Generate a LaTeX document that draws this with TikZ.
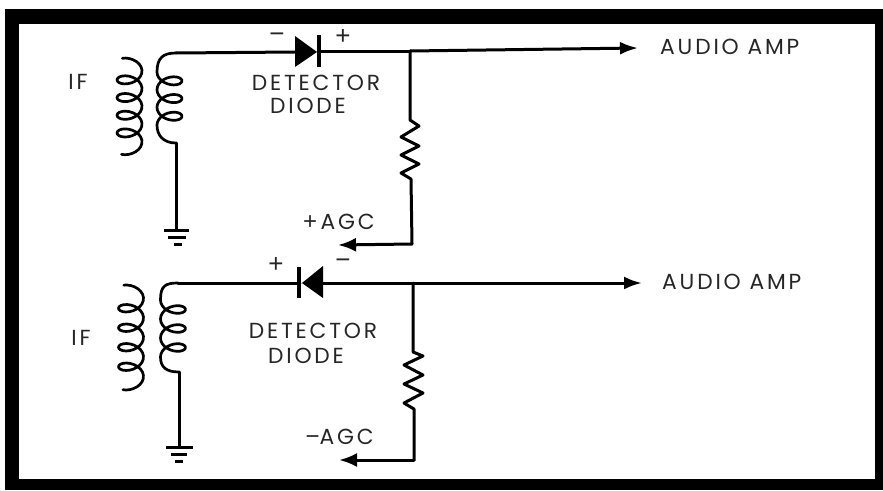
\documentclass[tikz,border=0pt]{standalone}
\usepackage{fontspec}
\setmainfont[LetterSpace=13]{Poppins}
\newfontfamily\symfont{Liberation Sans}
\usetikzlibrary{arrows.meta,calc}
\tikzset{
 wire/.style={line width=3pt,line cap=round,line join=round},
 coil/.style={line width=2.7pt,line join=round,line cap=round},
 thinbar/.style={line width=3pt},
 lab/.style={inner sep=0pt,font=\fontsize{21.8}{23}\selectfont,text=black!85},
 sym/.style={inner sep=0pt,font=\symfont\fontsize{26}{27}\selectfont,text=black!85},
 tip/.style={-{Latex[length=18pt,width=13pt]}},
 revtip/.style={-{Latex[length=18pt,width=14pt]}},
 dbar/.style={line width=4.4pt},
}
% primary: centre x, y at t=0, pitch
\newcommand{\primcoil}[3]{%
 \draw[coil] plot[smooth,samples=100,domain=-125:1570,variable=\t]
  ({#1+12.5*cos(\t)},{#2+\t/360*#3+8*sin(\t)});}
% secondary: centre x, y at t=0, pitch, first end, last end
\newcommand{\seccoil}[5]{%
 \draw[coil] (#4) .. controls +(-13,0) and ({#1-12.5},{#2-14}) .. ({#1-12.5},{#2})
  -- plot[smooth,samples=70,domain=0:1080,variable=\t]
  ({#1-12.5*cos(\t)},{#2+\t/360*#3+8*sin(\t)})
  .. controls +(0,10) and ($(#5)+(-13,0)$) .. (#5);}
\begin{document}
\begin{tikzpicture}[x=1pt,y=-1pt]
\useasboundingbox (0,0) rectangle (883,490);
\fill[black] (5,9) rectangle (883,490);
\fill[white] (19,24) rectangle (875,479);
% ---- upper circuit
\coordinate (a1) at (176,53);
\coordinate (a2) at (176,143);
\coordinate (ag) at (176,230);
\coordinate (ad) at (295,52);
\coordinate (ak) at (318,51);
\coordinate (aj) at (410,51);
\coordinate (aout) at (638,48);
\coordinate (ar1) at (410,120);
\coordinate (ar2) at (411,179);
\coordinate (ac) at (412,244);
\coordinate (aag) at (338,245);
\primcoil{129.5}{71}{17.7}
\seccoil{169.5}{72}{17.7}{a1}{a2}
\draw[wire] (a1) -- (ad);
\draw[wire] (a2) -- (ag);
\draw[thinbar] (164,230) -- (189,230) (168,237) -- (186,237);
\draw[line width=3pt] (174,244) -- (182,244);
\fill (295,36) -- (295,67) -- (317,52) -- cycle;
\draw[dbar] (319,35) -- (319,67);
\draw[wire] (ak) -- (aj);
\draw[wire,tip] (aj) -- (aout);
\draw[wire] (aj) -- (ar1) -- (419,126) -- (401,137) -- (419,146) -- (401,155) -- (419,164) -- (401,173) -- (ar2) -- (ac);
\draw[wire,revtip] (ac) -- (aag);
\node[sym] (am) at (277,38) {−};
\node[sym] (ap) at (343,37) {+};
\node[lab] (ad1) at (316,83) {DETECTOR};
\node[lab] (ad2) at (308,106) {DIODE};
\node[lab,anchor=east] (aagc) at (375,222) {{\symfont\fontsize{24}{26}\selectfont +}\,AGC};
\node[lab,anchor=west] (aaud) at (660,47) {AUDIO AMP};
\node[lab] (aif) at (78,82) {IF};
% ---- lower circuit
\coordinate (b1) at (178,283);
\coordinate (b2) at (179,372);
\coordinate (bg) at (179,447);
\coordinate (bd) at (300,283);
\coordinate (bk) at (323,283);
\coordinate (bj) at (413,283);
\coordinate (bout) at (642,283);
\coordinate (br1) at (413,352);
\coordinate (br2) at (414,409);
\coordinate (bc) at (414,460);
\coordinate (bag) at (339,460);
\primcoil{131}{298.5}{19.5}
\seccoil{173}{300}{19}{b1}{b2}
\draw[wire] (b1) -- (bd);
\draw[wire] (b2) -- (bg);
\draw[thinbar] (166,447) -- (193,447) (171,454) -- (187,454);
\draw[line width=3pt] (175,461) -- (183,461);
\fill (323,266) -- (323,298) -- (302,283) -- cycle;
\draw[dbar] (299,267) -- (299,298);
\draw[wire] (bk) -- (bj);
\draw[wire,tip] (bj) -- (bout);
\draw[wire] (bj) -- (br1) -- (423,356) -- (404,365) -- (423,375) -- (404,384) -- (423,393) -- (404,403) -- (br2) -- (bc);
\draw[wire,revtip] (bc) -- (bag);
\node[sym] (bp) at (276,265) {+};
\node[sym] (bm) at (343,264) {−};
\node[lab] (bd1) at (313,331) {DETECTOR};
\node[lab] (bd2) at (306,356) {DIODE};
\node[lab,anchor=east] (bagc) at (374,437) {{\symfont\fontsize{24}{26}\selectfont −}AGC};
\node[lab,anchor=west] (baud) at (662,282) {AUDIO AMP};
\node[lab] (bif) at (81,338) {IF};
\end{tikzpicture}
\end{document}
